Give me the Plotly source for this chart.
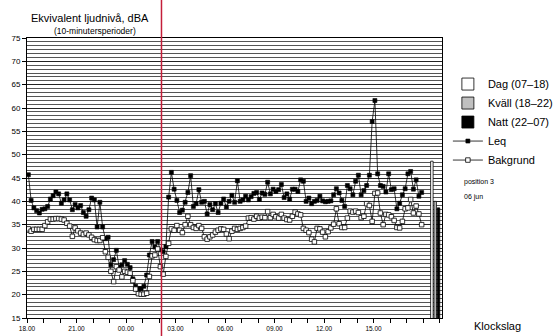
import plotly.graph_objects as go

# ---- data (10-minute periods starting 18:00) ----
leq = [
    45.7, 40.2, 38.6, 38.0, 37.5, 38.3, 38.4, 38.9, 40.5, 41.2, 42.0, 41.6, 39.6, 40.3, 41.6, 40.3,
    38.2, 39.3, 38.6, 39.1, 37.6, 36.8, 38.2, 40.7, 40.3, 34.5, 39.8, 34.5, 32.0, 32.3, 26.4, 27.5,
    29.5, 25.9, 26.4,
    27.3, 26.5, 25.8, 23.4, 21.8, 21.3, 21.3, 21.8, 24.2, 28.5, 31.4, 30.2, 31.4, 29.6, 29.2, 30.3,
    40.9, 46.2, 42.6, 40.2, 37.6, 38.1, 39.8, 41.9, 45.5, 38.9, 39.5, 42.5, 39.8, 40.0, 37.3, 39.3,
    38.2, 39.5, 37.6, 39.6,
    40.5, 38.8, 40.0, 41.3, 39.8, 44.4, 40.0, 40.3, 41.1, 40.3, 41.0, 41.7, 41.9, 40.4, 41.8, 41.5,
    44.1, 41.6, 42.6, 42.1, 42.5, 43.6,
    40.8, 41.6, 40.5, 42.6, 42.6, 42.1, 44.6, 44.3, 40.0, 40.7, 39.5, 40.0, 40.2, 41.1,
    40.1, 39.9, 40.0, 40.1, 41.4, 42.7, 41.8, 40.2, 38.9, 43.4, 42.7, 41.4, 44.3, 45.6, 41.4, 42.3,
    43.4, 45.6, 57.1, 61.6, 45.9, 43.4, 43.2, 42.0, 45.9, 42.5, 42.7, 38.4, 39.6, 41.4, 42.7, 45.9,
    46.4, 42.6, 44.6, 41.1, 41.9,
]
bakgrund = [
    34.1, 33.6, 34.0, 34.0, 34.0, 34.0, 34.8, 35.6, 36.2, 36.2, 36.3, 36.3, 36.2, 36.0, 35.3, 34.7,
    32.5, 34.3, 33.7, 33.2, 32.9, 33.2, 32.8, 32.3, 31.8, 31.6, 31.6, 32.2, 29.2, 28.0, 25.0, 22.8,
    26.0, 25.3, 23.8,
    25.0, 24.8, 24.6, 23.0, 21.2, 20.2, 20.1, 20.1, 20.3, 23.9, 28.3, 28.5, 29.8, 26.0, 24.4, 28.2,
    31.0, 34.1, 33.8, 34.8, 33.8, 33.3, 35.0, 36.8, 35.0, 34.4, 34.2, 34.8, 34.2, 32.4, 31.9, 32.4,
    32.8, 33.4, 33.8, 34.1,
    34.0, 33.0, 32.0, 33.6, 34.2, 34.0, 34.2, 34.4, 34.7, 36.4, 36.5, 36.2, 36.8, 36.4, 36.6, 36.5,
    37.8, 36.5, 37.2, 36.7, 36.4, 37.2,
    36.4, 36.1, 36.0, 36.8, 37.7, 37.3, 37.1, 34.2, 33.8, 33.3, 31.9, 31.3, 34.2, 34.1,
    33.4, 32.4, 33.5, 34.3, 35.1, 38.4, 35.2, 34.4, 34.4, 36.4, 37.9, 37.7, 37.9, 37.6, 36.5, 36.8,
    39.5, 39.1, 35.7, 41.7, 41.8, 37.5, 35.0, 37.2, 37.1, 36.7, 35.9, 34.4, 34.3, 35.7, 38.4, 38.6,
    40.4, 37.5, 39.0, 37.3, 35.0,
]
summary_names = ["Dag (07–18)", "Kväll (18–22)", "Natt (22–07)"]
summary_values = [48.6, 40.0, 38.6]
summary_colors = ["#ffffff", "#c0c0c0", "#000000"]
tick_labels = ["18.00", "21.00", "00.00", "03.00", "06.00", "09.00", "12.00", "15.00"]
period_minutes = 10
marker_hour = 8.15          # red vertical marker, hours after 18:00
x_max = 25.15               # axis length in hours

# ---- derived positions ----
hours = [(i + 0.5) * period_minutes / 60 for i in range(len(leq))]
t_end = hours[-1]
summary_x = [t_end + 0.62 + 0.2 * k for k in range(len(summary_values))]

FONT = "Liberation Sans, Arial, Helvetica, sans-serif"

fig = go.Figure()
for name, val, col, x in zip(summary_names, summary_values, summary_colors, summary_x):
    fig.add_trace(go.Bar(x=[x], y=[val], name=name, width=0.15,
                         marker=dict(color=col, line=dict(color="black", width=0.8))))

fig.add_trace(go.Scatter(x=hours, y=leq, name="Leq", mode="lines+markers",
                         line=dict(color="black", width=0.8),
                         marker=dict(symbol="square", size=4, color="black",
                                     line=dict(color="black", width=0.6))))
fig.add_trace(go.Scatter(x=hours, y=bakgrund, name="Bakgrund", mode="lines+markers",
                         line=dict(color="black", width=0.8),
                         marker=dict(symbol="square", size=4.5, color="white",
                                     line=dict(color="black", width=0.8))))

fig.add_shape(type="line", xref="paper", yref="paper",
              x0=marker_hour / x_max, x1=marker_hour / x_max, y0=-0.07, y1=1.15,
              line=dict(color="#c41e3a", width=1.5))

fig.update_layout(
    width=555, height=336,
    margin=dict(l=27, r=113, t=38, b=18, autoexpand=False),
    paper_bgcolor="white", plot_bgcolor="white",
    barmode="overlay",
    font=dict(family=FONT, color="black"),
    showlegend=True,
    legend=dict(xref="container", yref="container", x=0.807, xanchor="left",
                y=0.793, yanchor="top",
                font=dict(size=11, family=FONT, color="black"), bgcolor="rgba(0,0,0,0)",
                borderwidth=0, tracegroupgap=0),
    xaxis=dict(range=[0, x_max], tickmode="array", automargin=False,
               tickvals=[3 * k for k in range(len(tick_labels))], ticktext=tick_labels,
               ticks="outside", ticklen=4, tickwidth=1, tickcolor="black",
               tickfont=dict(size=6.5, family=FONT, color="black"),
               minor=dict(tickmode="linear", tick0=0, dtick=1, ticks="outside",
                          ticklen=4, tickcolor="black", showgrid=False),
               showgrid=False, zeroline=False, showline=True, linecolor="black",
               linewidth=1, mirror=True),
    yaxis=dict(range=[15, 75], tickmode="linear", tick0=15, dtick=5, automargin=False,
               ticks="outside", ticklen=4, tickcolor="black",
               tickfont=dict(size=8, family=FONT, color="black"),
               showgrid=True, gridcolor="#222222", gridwidth=1,
               minor=dict(tickmode="linear", tick0=15, dtick=5 / 6, showgrid=True,
                          gridcolor="#555555", gridwidth=1),
               zeroline=False, showline=True, linecolor="black", linewidth=1, mirror=True),
)

ann = dict(xref="paper", yref="paper", showarrow=False)
fig.add_annotation(text="Ekvivalent ljudnivå, dBA", x=0.152, y=1.072, xanchor="center",
                   yanchor="middle", font=dict(family=FONT, size=11, color="black"), **ann)
fig.add_annotation(text="(10-minutersperioder)", x=0.163, y=1.025, xanchor="center",
                   yanchor="middle", font=dict(family=FONT, size=8.5, color="black"), **ann)
fig.add_annotation(text="position 3", x=1.0475, y=0.486, xanchor="left", yanchor="middle",
                   font=dict(family=FONT, size=7, color="black"), **ann)
fig.add_annotation(text="06 jun", x=1.0475, y=0.432, xanchor="left", yanchor="middle",
                   font=dict(family=FONT, size=7, color="black"), **ann)
fig.add_annotation(text="Klockslag", x=1.072, y=-0.029, xanchor="left", yanchor="middle",
                   font=dict(family=FONT, size=11, color="black"), **ann)

fig.write_html("out.html")
